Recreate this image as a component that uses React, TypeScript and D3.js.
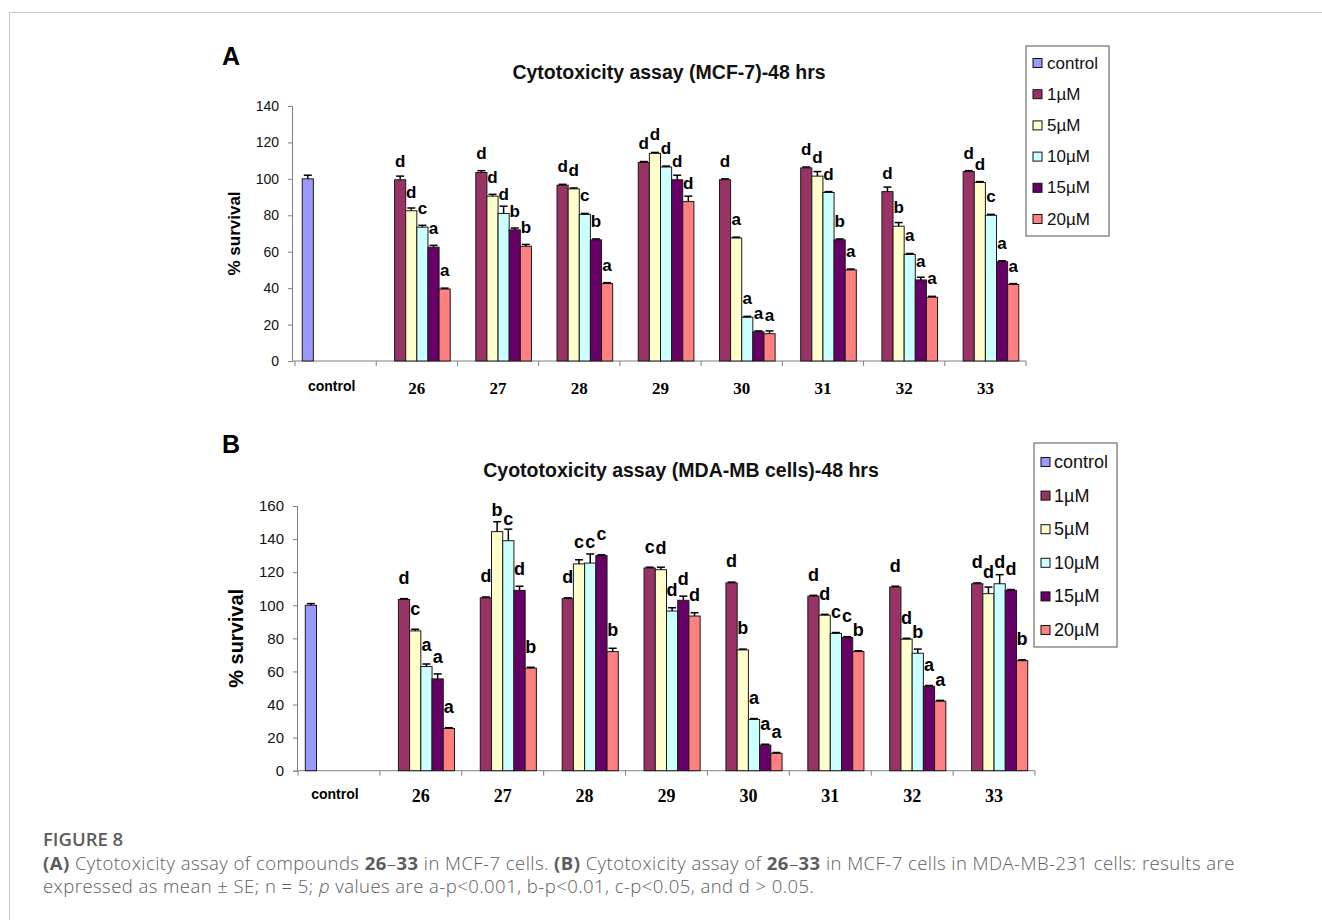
import React, { useEffect, useRef } from "react";
import * as d3 from "d3";

const categories = ["control", "26", "27", "28", "29", "30", "31", "32", "33"];
const seriesNames = ["control", "1µM", "5µM", "10µM", "15µM", "20µM"];
const seriesColors = ["#9999ff", "#993366", "#ffffcc", "#ccffff", "#660066", "#ff8080"];

// panel A - MCF-7, compounds 26..33
const mcfControl = 100;
const mcfControlErr = 2;
const mcf1uM = [99.5, 103.5, 96.5, 109, 99.5, 106, 93, 104];
const mcf5uM = [82.5, 90.5, 94.5, 114, 67.5, 101.5, 74, 98];
const mcf10uM = [73.5, 81, 80.5, 106.5, 24, 92.5, 58.5, 80];
const mcf15uM = [62.5, 72, 66.5, 99.5, 16, 66.5, 44.5, 54.5];
const mcf20uM = [39.5, 63, 42.5, 87.5, 15, 50, 35, 42];
const mcfErr1 = [2, 1, 0.5, 0.5, 0.5, 0.5, 2.5, 0.5];
const mcfErr5 = [1.5, 1, 0.5, 0.5, 0.5, 2.5, 2, 0.5];
const mcfErr10 = [1, 4, 0.5, 0.5, 0.5, 0.5, 0.5, 0.5];
const mcfErr15 = [1, 1, 0.5, 2.5, 0.5, 0.5, 1.5, 0.5];
const mcfErr20 = [0.5, 1, 0.5, 3, 1.5, 0.5, 0.5, 0.5];
const mcfSig1 = ["d", "d", "d", "d", "d", "d", "d", "d"];
const mcfSig5 = ["d", "d", "d", "d", "a", "d", "b", "d"];
const mcfSig10 = ["c", "d", "c", "d", "a", "d", "a", "c"];
const mcfSig15 = ["a", "b", "b", "d", "a", "b", "a", "a"];
const mcfSig20 = ["a", "b", "a", "d", "a", "a", "a", "a"];

// panel B - MDA-MB, compounds 26..33
const mdaControl = 100;
const mdaControlErr = 1;
const mda1uM = [103.5, 104.5, 104, 122.5, 113.5, 105.5, 111, 113];
const mda5uM = [84.5, 144.5, 125, 121.5, 73, 94, 79.5, 107];
const mda10uM = [63, 139, 125.5, 96.5, 31, 83, 71, 113];
const mda15uM = [55.5, 109, 130, 103, 15.5, 80.5, 51, 109];
const mda20uM = [25.5, 62, 72, 93.5, 10.5, 72, 42, 66.5];
const mdaErr1 = [0.5, 0.5, 0.5, 0.5, 0.5, 0.5, 0.5, 0.5];
const mdaErr5 = [1, 6, 2.5, 1.5, 0.5, 0.5, 0.5, 4];
const mdaErr10 = [1.5, 7, 5.5, 2, 0.5, 0.5, 2.5, 5.5];
const mdaErr15 = [3, 2.5, 0.5, 2.5, 0.5, 0.5, 0.5, 0.5];
const mdaErr20 = [0.5, 0.5, 2, 2, 0.5, 0.5, 0.5, 0.5];
const mdaSig1 = ["d", "d", "d", "c", "d", "d", "d", "d"];
const mdaSig5 = ["c", "b", "c", "d", "b", "d", "d", "d"];
const mdaSig10 = ["a", "c", "c", "d", "a", "c", "b", "d"];
const mdaSig15 = ["a", "d", "c", "d", "a", "c", "a", "d"];
const mdaSig20 = ["a", "b", "b", "d", "a", "b", "a", "b"];

const SANS = "'Liberation Sans', Arial, sans-serif";
const SERIF = "'Liberation Serif', 'Times New Roman', serif";

type Bar = { cat: string; s: string; v: number; e: number; sig: string | null };

function buildRows(ctrl: number, ctrlErr: number, vals: number[][], errs: number[][], sigs: string[][]): Bar[] {
  const rows: Bar[] = [{ cat: "control", s: "control", v: ctrl, e: ctrlErr, sig: null }];
  categories.slice(1).forEach((c, i) => {
    vals.forEach((arr, k) => {
      rows.push({ cat: c, s: seriesNames[k + 1], v: arr[i], e: errs[k][i], sig: sigs[k][i] });
    });
  });
  return rows;
}

function drawPanel(svg: any, p: any) {
  const g = svg.append("g");
  const x0 = d3.scaleBand().domain(categories).range(p.xRange);
  const x1 = d3
    .scaleBand()
    .domain(seriesNames)
    .range([0, x0.bandwidth()])
    .paddingOuter(0.65);
  const y = d3.scaleLinear().domain([0, p.yMax]).range([p.y0, p.yTop]);
  const color = d3.scaleOrdinal<string, string>().domain(seriesNames).range(seriesColors);

  // panel letter + title
  g.append("text")
    .attr("x", 222)
    .attr("y", p.letterY)
    .attr("font-family", SANS)
    .attr("font-weight", "bold")
    .attr("font-size", 25)
    .text(p.letter);
  g.append("text")
    .attr("x", p.titleX)
    .attr("y", p.titleY)
    .attr("text-anchor", "middle")
    .attr("font-family", SANS)
    .attr("font-weight", "bold")
    .attr("font-size", 19.5)
    .attr("fill", "#111")
    .text(p.title);

  // y axis
  const ax = g
    .append("g")
    .attr("transform", `translate(${p.axisX},0)`)
    .call(d3.axisLeft(y).tickValues(d3.range(0, p.yMax + 1, 20)).tickSize(4).tickPadding(9));
  ax.select(".domain").attr("stroke", "#808080");
  ax.selectAll(".tick line").attr("stroke", "#808080");
  ax.selectAll(".tick text")
    .attr("font-family", SANS)
    .attr("font-size", p.tickFont)
    .attr("fill", "#111");

  g.append("text")
    .attr("transform", `translate(${p.yLabelX},${(p.y0 + p.yTop) / 2}) rotate(-90)`)
    .attr("text-anchor", "middle")
    .attr("dominant-baseline", "central")
    .attr("font-family", SANS)
    .attr("font-weight", "bold")
    .attr("font-size", p.yLabelFont)
    .text("% survival");

  // x axis
  g.append("line")
    .attr("x1", p.axisX)
    .attr("x2", p.xRange[1])
    .attr("y1", p.y0)
    .attr("y2", p.y0)
    .attr("stroke", "#808080");
  const bounds = categories.map(c => x0(c) as number).concat([p.xRange[1]]);
  g.selectAll(".xt")
    .data(bounds)
    .enter()
    .append("line")
    .attr("x1", d => d)
    .attr("x2", d => d)
    .attr("y1", p.y0)
    .attr("y2", p.y0 + 5)
    .attr("stroke", "#808080");
  g.selectAll(".xl")
    .data(categories)
    .enter()
    .append("text")
    .attr("x", d => (x0(d) as number) + x0.bandwidth() / 2 + (d === "control" ? -4 : 0))
    .attr("y", d => (d === "control" ? p.catY : p.catY + 3))
    .attr("text-anchor", "middle")
    .attr("font-family", d => (d === "control" ? SANS : SERIF))
    .attr("font-weight", "bold")
    .attr("font-size", d => (d === "control" ? 14 : p.numFont))
    .text(d => d);

  // bars
  const rows: Bar[] = p.rows;
  const bx = (d: Bar) => (x0(d.cat) as number) + (x1(d.s) as number);
  const bw = x1.bandwidth();
  g.selectAll(".bar")
    .data(rows)
    .enter()
    .append("rect")
    .attr("x", bx)
    .attr("y", d => y(d.v))
    .attr("width", bw)
    .attr("height", d => p.y0 - y(d.v))
    .attr("fill", d => color(d.s))
    .attr("stroke", "#1a1a1a")
    .attr("stroke-width", 1);

  // error bars (plus only)
  const eb = g.selectAll(".err").data(rows).enter().append("g");
  eb.append("line")
    .attr("x1", d => bx(d) + bw / 2)
    .attr("x2", d => bx(d) + bw / 2)
    .attr("y1", d => y(d.v))
    .attr("y2", d => y(d.v + d.e))
    .attr("stroke", "#000")
    .attr("stroke-width", 1.5);
  eb.append("line")
    .attr("x1", d => bx(d) + bw / 2 - 4)
    .attr("x2", d => bx(d) + bw / 2 + 4)
    .attr("y1", d => y(d.v + d.e))
    .attr("y2", d => y(d.v + d.e))
    .attr("stroke", "#000")
    .attr("stroke-width", 1.5);

  // significance letters
  g.selectAll(".sig")
    .data(rows.filter(d => d.sig))
    .enter()
    .append("text")
    .attr("x", d => bx(d) + bw / 2)
    .attr("y", d => y(d.v) - p.sigOffset)
    .attr("text-anchor", "middle")
    .attr("font-family", SANS)
    .attr("font-weight", "bold")
    .attr("font-size", p.sigFont)
    .text(d => d.sig as string);

  // legend
  const lg = g.append("g");
  lg.append("rect")
    .attr("x", p.legend.x)
    .attr("y", p.legend.y)
    .attr("width", p.legend.w)
    .attr("height", p.legend.h)
    .attr("fill", "#fff")
    .attr("stroke", "#6e6e6e")
    .attr("stroke-width", 1.2);
  const items = lg
    .selectAll(".li")
    .data(seriesNames)
    .enter()
    .append("g")
    .attr("transform", (d, i) => `translate(${p.legend.x + 7},${p.legend.first + i * p.legend.step})`);
  items
    .append("rect")
    .attr("x", 0)
    .attr("y", -4.5)
    .attr("width", 9)
    .attr("height", 9)
    .attr("fill", d => color(d))
    .attr("stroke", "#111");
  items
    .append("text")
    .attr("x", p.legend.textDx)
    .attr("y", 0)
    .attr("dominant-baseline", "central")
    .attr("font-family", SANS)
    .attr("font-size", p.legend.font)
    .attr("fill", "#111")
    .text(d => d);
}

export default function App() {
  const ref = useRef<SVGSVGElement | null>(null);

  useEffect(() => {
    const svg = d3.select(ref.current);
    svg.selectAll("*").remove();

    // figure frame
    svg.append("line").attr("x1", 9.5).attr("x2", 1322).attr("y1", 12.5).attr("y2", 12.5).attr("stroke", "#c4c4c4");
    svg.append("line").attr("x1", 9.5).attr("x2", 9.5).attr("y1", 12.5).attr("y2", 920).attr("stroke", "#c4c4c4");

    drawPanel(svg, {
      letter: "A",
      letterY: 65,
      title: "Cytotoxicity assay (MCF-7)-48 hrs",
      titleX: 669,
      titleY: 79,
      axisX: 292,
      xRange: [295, 1026],
      y0: 361,
      yTop: 106,
      yMax: 140,
      tickFont: 14,
      yLabelX: 234,
      yLabelFont: 17,
      catY: 391,
      numFont: 17,
      sigOffset: 13,
      sigFont: 17,
      rows: buildRows(
        mcfControl,
        mcfControlErr,
        [mcf1uM, mcf5uM, mcf10uM, mcf15uM, mcf20uM],
        [mcfErr1, mcfErr5, mcfErr10, mcfErr15, mcfErr20],
        [mcfSig1, mcfSig5, mcfSig10, mcfSig15, mcfSig20]
      ),
      legend: { x: 1026, y: 46, w: 83, h: 190, first: 63, step: 31.2, textDx: 14, font: 17 }
    });

    drawPanel(svg, {
      letter: "B",
      letterY: 453,
      title: "Cyototoxicity assay (MDA-MB cells)-48 hrs",
      titleX: 681,
      titleY: 477,
      axisX: 297,
      xRange: [298, 1035],
      y0: 770.7,
      yTop: 506,
      yMax: 160,
      tickFont: 15,
      yLabelX: 236,
      yLabelFont: 20,
      catY: 799,
      numFont: 18,
      sigOffset: 15.5,
      sigFont: 18,
      rows: buildRows(
        mdaControl,
        mdaControlErr,
        [mda1uM, mda5uM, mda10uM, mda15uM, mda20uM],
        [mdaErr1, mdaErr5, mdaErr10, mdaErr15, mdaErr20],
        [mdaSig1, mdaSig5, mdaSig10, mdaSig15, mdaSig20]
      ),
      legend: { x: 1034, y: 443, w: 83, h: 204, first: 462, step: 33.6, textDx: 13, font: 18 }
    });

    // caption
    const cap = svg.append("g").attr("font-family", "'Open Sans', sans-serif").attr("fill", "#5c5c5c");
    cap.append("text").attr("x", 43).attr("y", 846).attr("font-size", 18.5).attr("font-weight", 600).text("FIGURE 8");
    const l1 = cap
      .append("text")
      .attr("x", 43)
      .attr("y", 870)
      .attr("font-size", 18.5)
      .attr("letter-spacing", 0.45);
    const parts1: [string, boolean][] = [
      ["(A)", true],
      [" Cytotoxicity assay of compounds ", false],
      ["26", true],
      ["–", false],
      ["33", true],
      [" in MCF-7 cells. ", false],
      ["(B)", true],
      [" Cytotoxicity assay of ", false],
      ["26", true],
      ["–", false],
      ["33", true],
      [" in MCF-7 cells in MDA-MB-231 cells: results are", false]
    ];
    parts1.forEach(([t, b]) => {
      l1.append("tspan").attr("font-weight", b ? 700 : 300).text(t);
    });
    const l2 = cap
      .append("text")
      .attr("x", 43)
      .attr("y", 893)
      .attr("font-size", 18.5)
      .attr("letter-spacing", 0.45)
      .attr("font-weight", 300);
    l2.append("tspan").text("expressed as mean ± SE; n = 5; ");
    l2.append("tspan").attr("font-style", "italic").text("p");
    l2.append("tspan").text(" values are a-p<0.001, b-p<0.01, c-p<0.05, and d > 0.05.");
  }, []);

  return (
    <svg
      ref={ref}
      width={1322}
      height={920}
      style={{ position: "absolute", left: 0, top: 0, display: "block", background: "#fff" }}
    />
  );
}
